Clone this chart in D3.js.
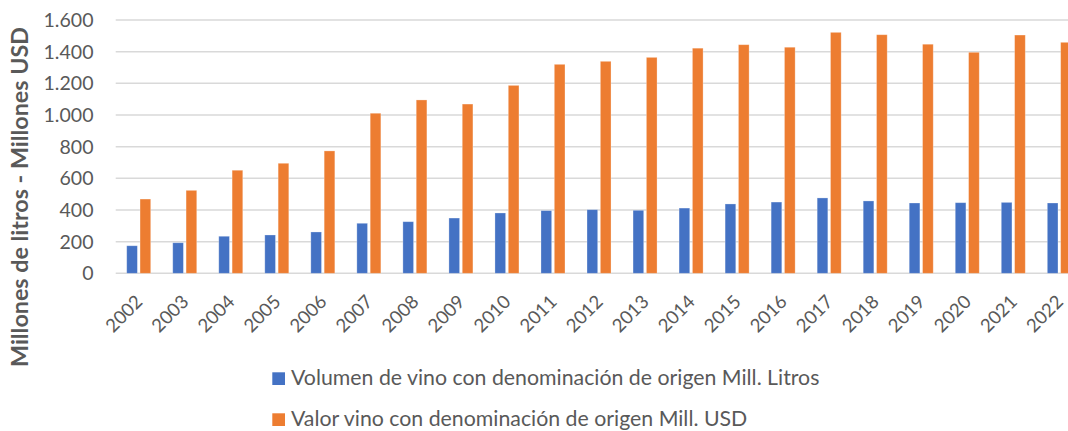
<!DOCTYPE html>
<html>
<head>
<meta charset="utf-8">
<script src="https://cdn.jsdelivr.net/npm/d3@7"></script>
<style>
  html, body { margin: 0; padding: 0; background: #fff; overflow: hidden; }
  svg { display: block; }
  text { font-family: Lato, "Open Sans", "Liberation Sans", sans-serif; fill: #595959; }
</style>
</head>
<body>
<svg id="chart" width="1068" height="431"></svg>
<script>
// ---- Data ----
const years = ["2002","2003","2004","2005","2006","2007","2008","2009","2010","2011","2012",
               "2013","2014","2015","2016","2017","2018","2019","2020","2021","2022"];
const volumen = [174,193,234,242,261,316,326,349,381,396,402,398,412,438,450,476,457,444,446,448,444];
const valor   = [469,524,651,695,773,1011,1095,1069,1187,1320,1339,1364,1422,1444,1428,1522,1507,1447,1396,1505,1459];
const yTicks = [0,200,400,600,800,1000,1200,1400,1600];
const seriesNames = ["Volumen de vino con denominación de origen Mill. Litros",
                     "Valor vino con denominación de origen Mill. USD"];
const seriesColors = ["#4472C4", "#ED7D31"];
const yTitle = "Millones de litros - Millones USD";

// ---- Layout ----
const svg = d3.select("#chart");
const plotLeft = 115.7, step = 46.03;
const plotRight = plotLeft + step * years.length;
const y0 = 273.3, y1 = 20;

const locale = d3.formatLocale({decimal: ",", thousands: ".", grouping: [3], currency: ["", ""]});
const fmt = locale.format(",d");

const x0 = d3.scaleBand().domain(years).range([plotLeft, plotRight]).padding(0);
const half = x0.bandwidth() / 2;
const x1 = d3.scaleBand().domain([0, 1]).range([half - 12, half + 12]).paddingInner(0.2).paddingOuter(0);
const y = d3.scaleLinear().domain([0, 1600]).range([y0, y1]);

function fit(sel, target, base) {
  sel.style("font-size", base + "px");
  const w = sel.node().getComputedTextLength();
  const size = base * target / w;
  sel.style("font-size", size + "px");
  return size;
}

// gridlines
svg.append("g").selectAll("line").data(yTicks).join("line")
  .attr("x1", plotLeft).attr("x2", plotRight)
  .attr("y1", d => y(d)).attr("y2", d => y(d))
  .attr("stroke", "#D9D9D9").attr("stroke-width", 1.5);

// bars
const groups = svg.append("g").selectAll("g").data(years).join("g")
  .attr("transform", d => `translate(${x0(d)},0)`);
[volumen, valor].forEach((vals, si) => {
  groups.append("rect")
    .attr("x", x1(si))
    .attr("width", x1.bandwidth())
    .attr("y", (d, i) => y(vals[i]))
    .attr("height", (d, i) => y(0) - y(vals[i]))
    .attr("fill", seriesColors[si])
    .attr("stroke", "#ffffff").attr("stroke-opacity", 0.35).attr("stroke-width", 0.8);
});

// y tick labels
const tickG = svg.append("g");
const probe = tickG.append("text").text(fmt(1600));
const tSize = fit(probe, 50, 20);
probe.remove();
tickG.selectAll("text").data(yTicks).join("text")
  .attr("x", 93.5).attr("y", d => y(d))
  .attr("dy", "0.36em")
  .attr("text-anchor", "end")
  .style("font-size", tSize + "px")
  .text(d => fmt(d));

// x labels
const xg = svg.append("g");
const xprobe = xg.append("text").text("2002");
const xSize = fit(xprobe, 43, 20);
xprobe.remove();
xg.selectAll("text").data(years).join("text")
  .attr("transform", d => `translate(${x0(d) + half + 5},303) rotate(-45)`)
  .attr("text-anchor", "end")
  .style("font-size", xSize + "px")
  .text(d => d);

// y title
const tt = svg.append("text")
  .attr("transform", "translate(28,197) rotate(-90)")
  .attr("text-anchor", "middle")
  .style("font-weight", "bold")
  .text(yTitle);
fit(tt, 340, 18);

// legend
const lg = svg.append("g");
const legY = [372.3, 413.3];
const lprobe = lg.append("text").text(seriesNames[0]);
const lSize = fit(lprobe, 529, 20);
lprobe.remove();
seriesNames.forEach((name, i) => {
  lg.append("rect").attr("x", 272.3).attr("y", legY[i]).attr("width", 12.7).attr("height", 12.7)
    .attr("fill", seriesColors[i]);
  lg.append("text").attr("x", 291).attr("y", legY[i] + 12.7)
    .style("font-size", lSize + "px").text(name);
});
</script>
</body>
</html>
